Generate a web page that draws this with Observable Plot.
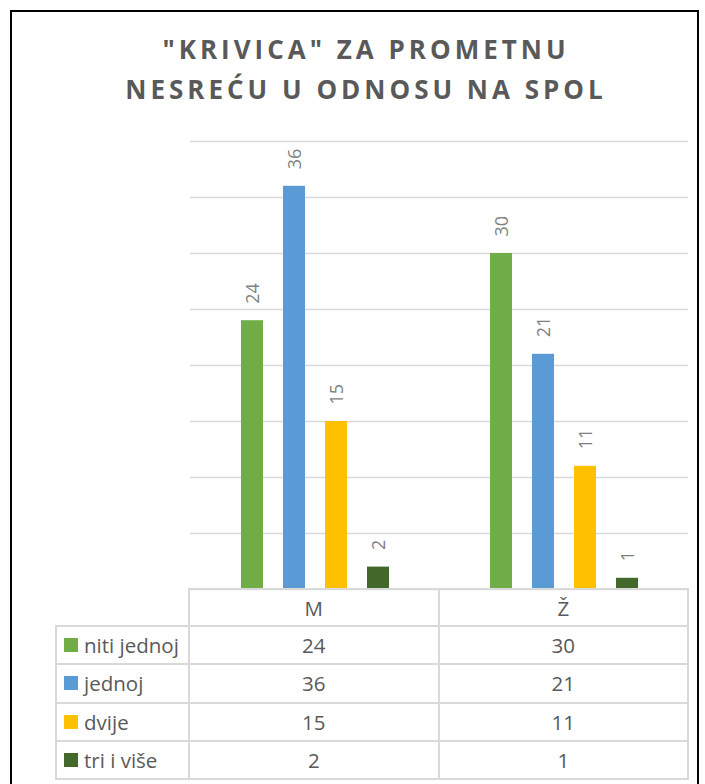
<!DOCTYPE html>
<html><head><meta charset="utf-8">
<script src="https://cdn.jsdelivr.net/npm/d3@7"></script>
<script src="https://cdn.jsdelivr.net/npm/@observablehq/plot@0.6"></script>
<style>
html,body{margin:0;padding:0;background:#fff;width:705px;height:784px;overflow:hidden;position:relative;}
#frame{position:absolute;left:10px;top:10px;width:689px;height:800px;border:2px solid #000;border-bottom:none;box-sizing:border-box;}
#title{position:absolute;left:0;top:29px;width:705px;padding-left:27px;box-sizing:border-box;text-align:center;font-family:"Open Sans";font-weight:700;font-size:26px;line-height:40px;letter-spacing:4px;color:#595959;}
#chart{position:absolute;left:0;top:120px;}
#table{position:absolute;left:56px;top:589px;display:grid;grid-template-columns:133px 249.5px 249.5px;grid-template-rows:37px repeat(4,38.3px);font-family:"Open Sans";font-size:20.5px;color:#595959;}
#table .cell{outline:2px solid #d9d9d9;outline-offset:-1px;display:flex;align-items:center;justify-content:center;}
#table .lab{justify-content:flex-start;}
#table .sw{width:14px;height:14px;margin-left:8px;margin-right:6px;flex:none;}
#table .empty{outline:none;}
</style>
</head><body>
<div id="frame"></div>
<div id="title"></div>
<div id="chart"></div>
<div id="table"></div>
<script>
const titleLines = ['"KRIVICA" ZA PROMETNU', 'NESREĆU U ODNOSU NA SPOL'];
const groups = ["M", "Ž"];
const series = ["niti jednoj", "jednoj", "dvije", "tri i više"];
const valuesM = [24, 36, 15, 2];
const valuesZ = [30, 21, 11, 1];
const colors = ["#70AD47", "#5B9BD5", "#FFC000", "#43682B"];
const gridTicks = [0, 5, 10, 15, 20, 25, 30, 35, 40];

const valuesByGroup = {"M": valuesM, "Ž": valuesZ};
const rows = [];
for (const g of groups) series.forEach((s, i) => rows.push({group: g, series: s, value: valuesByGroup[g][i]}));

document.getElementById("title").innerHTML = titleLines.map(t => `<div>${t}</div>`).join("");

const plot = Plot.plot({
  width: 705,
  height: 470,
  marginTop: 21,
  marginBottom: 1,
  marginLeft: 189,
  marginRight: 17,
  facet: {data: rows, x: "group"},
  fx: {domain: groups, padding: 0, axis: null},
  x: {domain: series, paddingInner: 0.48, paddingOuter: 1.18, axis: null},
  y: {domain: [0, 40], axis: null},
  color: {domain: series, range: colors},
  style: {background: "transparent", overflow: "visible"},
  marks: [
    Plot.ruleY(gridTicks, {stroke: "#d9d9d9", strokeWidth: 1.5}),
    Plot.barY(rows, {x: "series", y: "value", fill: "series"}),
    Plot.text(rows, {x: "series", y: "value", text: d => String(d.value), rotate: -90, textAnchor: "start", dy: -17, dx: 1, fill: "#7f7f7f", fontSize: 18, fontFamily: "Open Sans"})
  ]
});
document.getElementById("chart").appendChild(plot);

const table = document.getElementById("table");
let html = `<div class="cell empty"></div>` + groups.map(g => `<div class="cell">${g}</div>`).join("");
series.forEach((s, i) => {
  html += `<div class="cell lab"><span class="sw" style="background:${colors[i]}"></span>${s}</div>`;
  html += groups.map(g => `<div class="cell">${valuesByGroup[g][i]}</div>`).join("");
});
table.innerHTML = html;
</script>
</body></html>
